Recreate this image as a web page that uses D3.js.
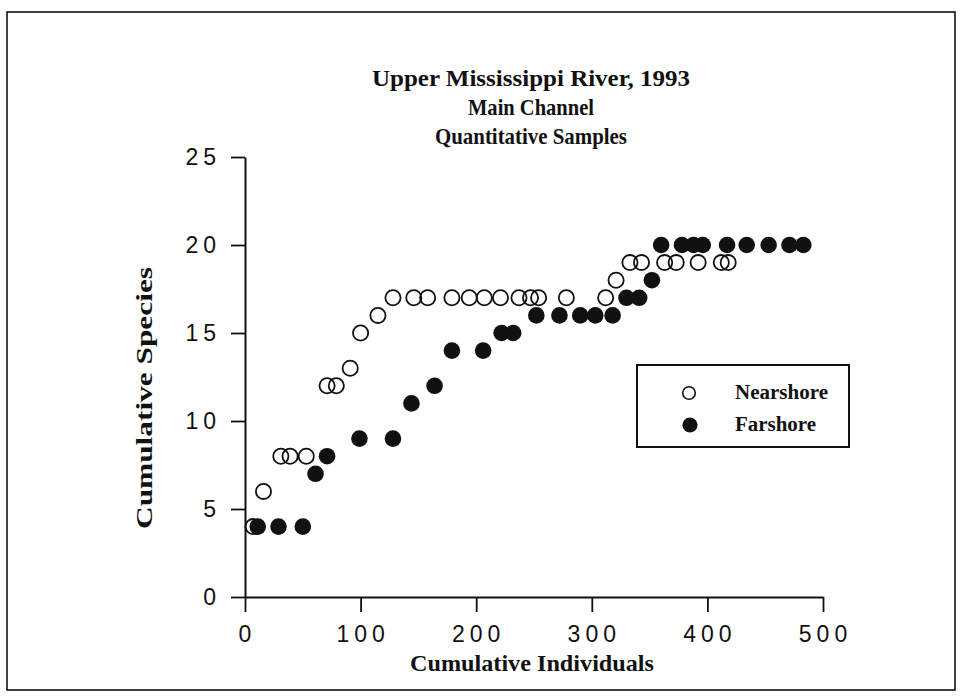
<!DOCTYPE html>
<html>
<head>
<meta charset="utf-8">
<script src="https://cdn.jsdelivr.net/npm/d3@7"></script>
<style>
  html, body { margin: 0; padding: 0; background: #fff; }
  svg { display: block; }
</style>
</head>
<body>
<svg id="chart" width="961" height="700"></svg>
<script>
// ---- data ----
const titleLines = ["Upper Mississippi River, 1993", "Main Channel", "Quantitative Samples"];
const xLabel = "Cumulative Individuals";
const yLabel = "Cumulative Species";
const seriesNames = ["Nearshore", "Farshore"];
const xTicks = [0, 100, 200, 300, 400, 500];
const yTicks = [0, 5, 10, 15, 20, 25];

const nearX = [7, 16, 31, 39, 53, 71, 79, 91, 100, 115, 128, 146, 158, 179, 194, 207, 221, 237, 247, 254, 278, 312, 321, 333, 343, 363, 373, 392, 412, 418];
const nearY = [4, 6, 8, 8, 8, 12, 12, 13, 15, 16, 17, 17, 17, 17, 17, 17, 17, 17, 17, 17, 17, 17, 18, 19, 19, 19, 19, 19, 19, 19];

const farX = [11, 29, 50, 61, 71, 99, 128, 144, 164, 179, 206, 222, 232, 252, 272, 290, 303, 318, 330, 341, 352, 360, 378, 388, 396, 417, 434, 453, 471, 483];
const farY = [4, 4, 4, 7, 8, 9, 9, 11, 12, 14, 14, 15, 15, 16, 16, 16, 16, 16, 17, 17, 18, 20, 20, 20, 20, 20, 20, 20, 20, 20];

// ---- drawing ----
const svg = d3.select("#chart");
const serif = "'Liberation Serif', 'Times New Roman', serif";
const sans = "'Liberation Sans', Arial, sans-serif";

// outer frame
svg.append("rect")
  .attr("x", 7).attr("y", 12).attr("width", 948).attr("height", 678)
  .attr("fill", "none").attr("stroke", "#111").attr("stroke-width", 1.6);

const x = d3.scaleLinear().domain([0, 500]).range([245, 823]);
const y = d3.scaleLinear().domain([0, 25]).range([597, 157]);

// title
const titleY = [86, 115, 144];
const titleW = [318, 126, 192];
titleLines.forEach((t, i) => {
  svg.append("text")
    .attr("x", 531).attr("y", titleY[i])
    .attr("text-anchor", "middle")
    .attr("font-family", serif).attr("font-weight", "bold")
    .attr("font-size", 24)
    .attr("textLength", titleW[i]).attr("lengthAdjust", "spacingAndGlyphs")
    .attr("fill", "#111")
    .text(t);
});

// axes
const minorX = d3.range(0, 501, 20).filter(v => v % 100 !== 0);
const minorY = d3.range(0, 26, 1).filter(v => v % 5 !== 0);

const gx = svg.append("g").attr("transform", `translate(0,${y(0)})`);
gx.call(d3.axisBottom(x).tickValues(minorX).tickSize(6).tickSizeOuter(0).tickFormat(""));
gx.call(d3.axisBottom(x).tickValues(xTicks).tickSize(15).tickSizeOuter(0).tickPadding(14).tickFormat(d3.format("d")));

const gy = svg.append("g").attr("transform", `translate(${x(0)},0)`);
gy.call(d3.axisLeft(y).tickValues(minorY).tickSize(6).tickSizeOuter(0).tickFormat(""));
gy.call(d3.axisLeft(y).tickValues(yTicks).tickSize(14).tickSizeOuter(0).tickPadding(10).tickFormat(d3.format("d")));

svg.selectAll(".domain").attr("stroke", "#111").attr("stroke-width", 2);
svg.selectAll(".tick line").attr("stroke", "#111").attr("stroke-width", 1.8);
svg.selectAll(".tick text")
  .attr("font-family", sans).attr("font-size", 23).attr("fill", "#111")
  .style("letter-spacing", "5px");
gx.selectAll(".tick text").attr("dx", "2px");

// axis titles
svg.append("text")
  .attr("x", 532).attr("y", 671)
  .attr("text-anchor", "middle")
  .attr("font-family", serif).attr("font-weight", "bold").attr("font-size", 24)
  .attr("textLength", 244).attr("lengthAdjust", "spacingAndGlyphs")
  .attr("fill", "#111")
  .text(xLabel);

svg.append("text")
  .attr("transform", `translate(152,${398}) rotate(-90)`)
  .attr("text-anchor", "middle")
  .attr("font-family", serif).attr("font-weight", "bold").attr("font-size", 24)
  .attr("textLength", 262).attr("lengthAdjust", "spacingAndGlyphs")
  .attr("fill", "#111")
  .text(yLabel);

// points
const near = nearX.map((v, i) => ({ x: v, y: nearY[i] }));
const far = farX.map((v, i) => ({ x: v, y: farY[i] }));

svg.append("g").selectAll("circle").data(near).join("circle")
  .attr("cx", d => x(d.x)).attr("cy", d => y(d.y)).attr("r", 7.6)
  .attr("fill", "none").attr("stroke", "#111").attr("stroke-width", 1.8);

svg.append("g").selectAll("circle").data(far).join("circle")
  .attr("cx", d => x(d.x)).attr("cy", d => y(d.y)).attr("r", 8.3)
  .attr("fill", "#111");

// legend
const lg = svg.append("g");
lg.append("rect").attr("x", 637).attr("y", 365).attr("width", 212).attr("height", 82)
  .attr("fill", "#fff").attr("stroke", "#111").attr("stroke-width", 2);
lg.append("circle").attr("cx", 689).attr("cy", 393).attr("r", 6.3)
  .attr("fill", "none").attr("stroke", "#111").attr("stroke-width", 1.6);
lg.append("circle").attr("cx", 690).attr("cy", 425).attr("r", 7.6).attr("fill", "#111");
const legW = [93, 81];
seriesNames.forEach((n, i) => {
  lg.append("text")
    .attr("x", 735).attr("y", 399 + i * 32)
    .attr("font-family", serif).attr("font-weight", "bold").attr("font-size", 20)
    .attr("textLength", legW[i]).attr("lengthAdjust", "spacingAndGlyphs")
    .attr("fill", "#111")
    .text(n);
});
</script>
</body>
</html>
